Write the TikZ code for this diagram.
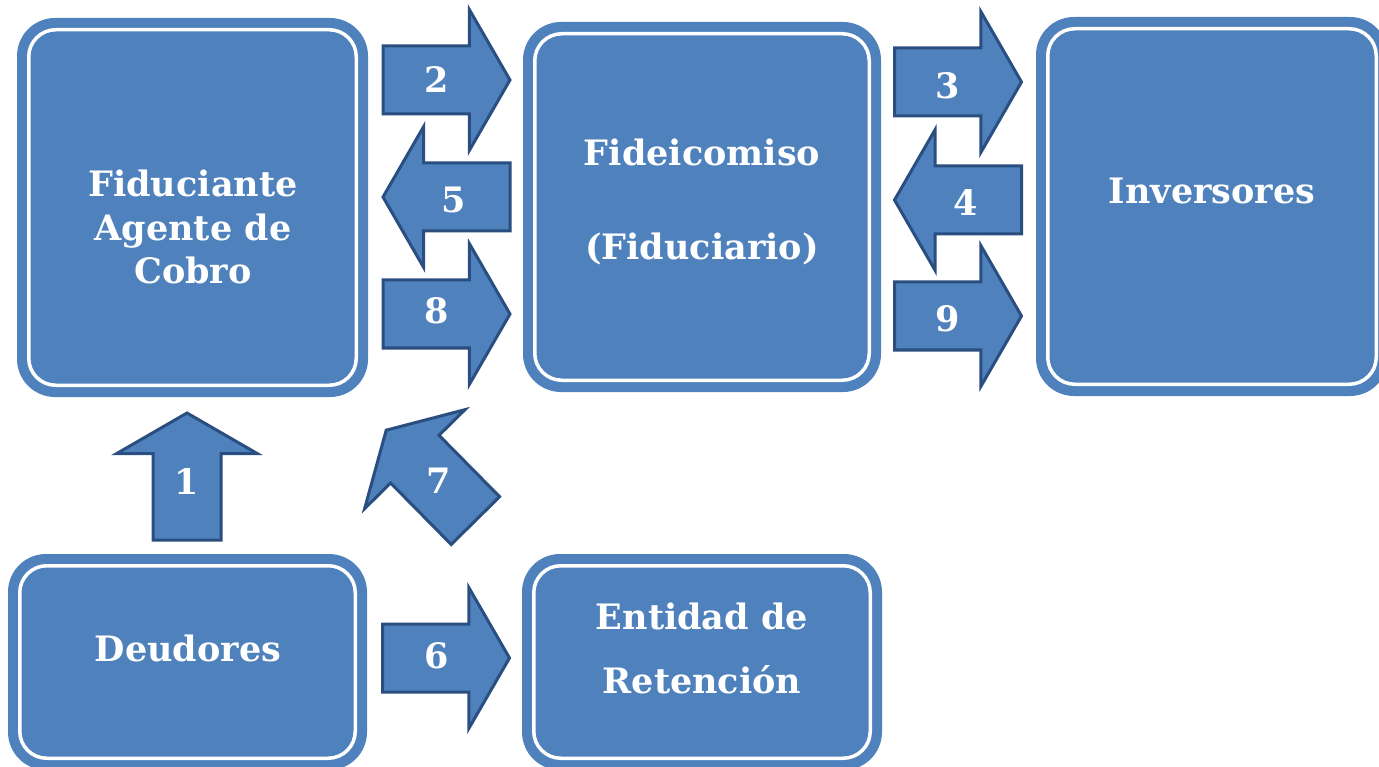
\documentclass[tikz,border=0pt]{standalone}
\usepackage{fontspec}
\setmainfont{DejaVu Serif}
\definecolor{boxblue}{HTML}{4F81BD}
\definecolor{edgeblue}{HTML}{2A4E7F}
\begin{document}
\begin{tikzpicture}[x=1pt,y=-1pt,
  box/.style={fill=boxblue, rounded corners=38pt, inner sep=0pt, outer sep=0pt},
  innerline/.style={draw=white, line width=3.5pt, rounded corners=27pt},
  arrowstyle/.style={fill=boxblue, draw=edgeblue, line width=3pt, line join=miter},
  blockarrow/.pic={
    \draw[arrowstyle] (0,-34) -- (86.3,-34) -- (86.3,-70.5) -- (127,0)
      -- (86.3,70.5) -- (86.3,34) -- (0,34) -- cycle;
    \coordinate (-tail) at (0,0);
    \coordinate (-tip) at (127,0);
  },
  lbl/.style={text=white, font=\bfseries\fontsize{35}{42}\selectfont, inner sep=0pt, anchor=base},
  num/.style={text=white, font=\bfseries\fontsize{35}{42}\selectfont, inner sep=0pt}]
\useasboundingbox (0,0) rectangle (1379,767);
\clip (0,0) rectangle (1379,767);
% boxes
\node[box, minimum width=351pt, minimum height=379pt] (b1) at (192.5,207.5) {};
\node[box, minimum width=358pt, minimum height=370pt] (b2) at (702,207) {};
\node[box, minimum width=352pt, minimum height=379pt] (b3) at (1212,206.5) {};
\node[box, minimum width=359pt, minimum height=216pt] (b4) at (187.5,662) {};
\node[box, minimum width=360pt, minimum height=216pt] (b5) at (702,662) {};
\foreach \b in {b1,b2,b3,b4,b5}{
  \draw[innerline] ([shift={(11.75,11.75)}]\b.north west) rectangle ([shift={(-11.75,-11.75)}]\b.south east);
}
% box texts
\node[lbl] (t1a) at (193,197) {Fiduciante};
\node[lbl] (t1b) at (193,240.5) {Agente de};
\node[lbl] (t1c) at (193,284) {Cobro};
\node[lbl] (t2a) at (702,166) {Fideicomiso};
\node[lbl] (t2b) at (702,259.5) {(Fiduciario)};
\node[lbl] (t3) at (1212,204) {Inversores};
\node[lbl] (t4) at (188,661) {Deudores};
\node[lbl] (t5a) at (702,629) {Entidad de};
\node[lbl] (t5b) at (702,693) {Retención};
% block arrows
\pic (a2) at (383,80) {blockarrow};
\pic[rotate=180] (a5) at (510,197) {blockarrow};
\pic (a8) at (383,314) {blockarrow};
\pic (a3) at (894.5,82) {blockarrow};
\pic[rotate=180] (a4) at (1021.5,200) {blockarrow};
\pic (a9) at (894.5,316) {blockarrow};
\pic (a6) at (382.5,658) {blockarrow};
\pic[rotate=90] (a1) at (187,540) {blockarrow};
\pic[rotate=134.6] (a7) at (475.4,520.6) {blockarrow};
% numbers
\node[num] (n2) at (437,80) {2};
\node[num] (n5) at (454,200) {5};
\node[num] (n8) at (437,311) {8};
\node[num] (n3) at (948,86) {3};
\node[num] (n4) at (966,203) {4};
\node[num] (n9) at (948,319) {9};
\node[num] (n6) at (437,656) {6};
\node[num] (n1) at (187,482) {1};
\node[num] (n7) at (439,481) {7};
\end{tikzpicture}
\end{document}
